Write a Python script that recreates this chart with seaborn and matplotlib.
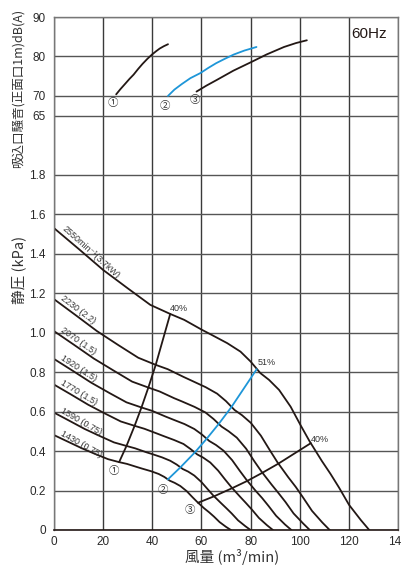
import matplotlib
matplotlib.use("Agg")
import matplotlib.pyplot as plt
import seaborn as sns

# fan curves (x: air flow m3/min, y: static pressure kPa)
speeds = ["2550min⁻¹(3.7kW)", "2230 (2.2)", "2070 (1.5)", "1920 (1.5)",
          "1770 (1.5)", "1590 (0.75)", "1430 (0.75)"]
q_2550 = [0, 10, 20, 30, 39.2, 47.3, 53, 60.3, 64, 70.5, 75.9, 80, 84, 87.5, 91.6, 96.3,
          100.4, 104, 109, 112.5, 116, 120.1, 124.9, 128.3]
p_2550 = [1.53, 1.425, 1.318, 1.225, 1.141, 1.095, 1.065, 1.014, 0.99, 0.947, 0.904, 0.854,
          0.795, 0.761, 0.71, 0.625, 0.53, 0.45, 0.35, 0.285, 0.215, 0.127, 0.05, 0]
q_2230 = [0, 8.7, 17.5, 26.2, 34.3, 41.4, 46.3, 52.7, 56.0, 61.7, 66.4, 70.0, 73.5, 76.5,
          80.1, 84.2, 87.8, 90.9, 95.3, 98.4, 101.4, 105.0, 109.2, 112.2]
p_2230 = [1.170, 1.090, 1.008, 0.937, 0.873, 0.837, 0.815, 0.776, 0.757, 0.724, 0.691, 0.653,
          0.608, 0.582, 0.543, 0.478, 0.405, 0.344, 0.268, 0.218, 0.164, 0.097, 0.038, 0]
q_2070 = [0, 8.1, 16.2, 24.4, 31.8, 38.4, 43.0, 48.9, 52.0, 57.2, 61.6, 64.9, 68.2, 71.0,
          74.4, 78.2, 81.5, 84.4, 88.5, 91.3, 94.2, 97.5, 101.4, 104.1]
p_2070 = [1.008, 0.939, 0.869, 0.807, 0.752, 0.722, 0.702, 0.668, 0.652, 0.624, 0.596, 0.563,
          0.524, 0.501, 0.468, 0.412, 0.349, 0.297, 0.231, 0.188, 0.142, 0.084, 0.033, 0]
q_1920 = [0, 7.5, 15.1, 22.6, 29.5, 35.6, 39.9, 45.4, 48.2, 53.1, 57.1, 60.2, 63.2, 65.9,
          69.0, 72.5, 75.6, 78.3, 82.1, 84.7, 87.3, 90.4, 94.0, 96.6]
p_1920 = [0.867, 0.808, 0.747, 0.694, 0.647, 0.621, 0.604, 0.575, 0.561, 0.537, 0.512, 0.484,
          0.451, 0.431, 0.402, 0.354, 0.300, 0.255, 0.198, 0.162, 0.122, 0.072, 0.028, 0]
q_1770 = [0, 6.9, 13.9, 20.8, 27.2, 32.8, 36.8, 41.9, 44.4, 48.9, 52.7, 55.5, 58.3, 60.7,
          63.6, 66.8, 69.7, 72.2, 75.7, 78.1, 80.5, 83.4, 86.7, 89.1]
p_1770 = [0.737, 0.687, 0.635, 0.590, 0.550, 0.528, 0.513, 0.489, 0.477, 0.456, 0.436, 0.411,
          0.383, 0.367, 0.342, 0.301, 0.255, 0.217, 0.169, 0.137, 0.104, 0.061, 0.024, 0]
q_1590 = [0, 6.2, 12.5, 18.7, 24.4, 29.5, 33.0, 37.6, 39.9, 44.0, 47.3, 49.9, 52.4, 54.6,
          57.1, 60.0, 62.6, 64.8, 68.0, 70.1, 72.3, 74.9, 77.9, 80.0]
p_1590 = [0.595, 0.554, 0.512, 0.476, 0.444, 0.426, 0.414, 0.394, 0.385, 0.368, 0.351, 0.332,
          0.309, 0.296, 0.276, 0.243, 0.206, 0.175, 0.136, 0.111, 0.084, 0.049, 0.019, 0]
q_1430 = [0, 5.6, 11.2, 16.8, 22.0, 26.5, 29.7, 33.8, 35.9, 39.5, 42.6, 44.9, 47.1, 49.1,
          51.4, 54.0, 56.3, 58.3, 61.1, 63.1, 65.1, 67.4, 70.0, 72.0]
p_1430 = [0.481, 0.448, 0.415, 0.385, 0.359, 0.344, 0.335, 0.319, 0.311, 0.298, 0.284, 0.269,
          0.250, 0.239, 0.223, 0.197, 0.167, 0.142, 0.110, 0.090, 0.068, 0.040, 0.016, 0]

# efficiency lines (1) 40%, (2) 51%, (3) 40%
q_eff1 = [26.5, 29.5, 32.8, 35.6, 38.4, 41.4, 47.3]
p_eff1 = [0.344, 0.426, 0.528, 0.621, 0.722, 0.837, 1.095]
q_eff2 = [46.3, 51.4, 57.3, 62.1, 67.0, 72.2, 82.5]
p_eff2 = [0.256, 0.317, 0.393, 0.462, 0.537, 0.623, 0.815]
q_eff3 = [58.6, 65.2, 72.5, 78.7, 84.8, 91.4, 104.5]
p_eff3 = [0.138, 0.171, 0.212, 0.249, 0.290, 0.337, 0.44]

# noise curves dB(A)
q_noise1 = [25.3, 27.0, 29.0, 30.7, 32.4, 34.2, 36.0, 38.0, 39.9, 41.5, 43.0, 44.7, 46.4]
db_noise1 = [70.4, 71.7, 73.1, 74.3, 75.4, 76.8, 78.1, 79.4, 80.5, 81.3, 82.0, 82.6, 83.1]
q_noise2 = [46.4, 49.0, 52.0, 55.5, 59.6, 62.8, 66.0, 69.5, 73.2, 77.5, 82.4]
db_noise2 = [70.0, 71.6, 73.0, 74.5, 75.8, 77.1, 78.3, 79.4, 80.5, 81.5, 82.4]
q_noise3 = [58.0, 62.0, 66.4, 73.0, 80.0, 86.5, 93.6, 98.5, 102.9]
db_noise3 = [71.1, 72.6, 74.1, 76.4, 78.5, 80.5, 82.4, 83.4, 84.1]

db_ticks = [65, 70, 80, 90]
kpa_ticks = [0, 0.2, 0.4, 0.6, 0.8, 1.0, 1.2, 1.4, 1.6, 1.8]


def db_to_y(db):
    # upper dB scale shares the axis: 70 dB sits at 2.2, 10 dB = 0.2
    return [2.2 + (v - 70) * 0.02 for v in db]


sns.set_style("white")
plt.rcParams["font.family"] = ["Liberation Sans Narrow", "Liberation Sans", "DejaVu Sans"]

BLACK = "#231815"
BLUE = "#1e96d8"

fig = plt.figure(figsize=(4.01, 5.66), dpi=100)
ax = fig.add_axes([54 / 401, 36 / 566, 344 / 401, 513 / 566])

curves = [(q_2550, p_2550), (q_2230, p_2230), (q_2070, p_2070), (q_1920, p_1920),
          (q_1770, p_1770), (q_1590, p_1590), (q_1430, p_1430)]
for q, p in curves:
    sns.lineplot(x=q, y=p, ax=ax, color=BLACK, lw=1.3, sort=False)

sns.lineplot(x=q_eff1, y=p_eff1, ax=ax, color=BLACK, lw=1.3, sort=False)
sns.lineplot(x=q_eff2, y=p_eff2, ax=ax, color=BLUE, lw=1.3, sort=False)
sns.lineplot(x=q_eff3, y=p_eff3, ax=ax, color=BLACK, lw=1.3, sort=False)

sns.lineplot(x=q_noise1, y=db_to_y(db_noise1), ax=ax, color=BLACK, lw=1.3, sort=False)
sns.lineplot(x=q_noise2, y=db_to_y(db_noise2), ax=ax, color=BLUE, lw=1.3, sort=False)
sns.lineplot(x=q_noise3, y=db_to_y(db_noise3), ax=ax, color=BLACK, lw=1.3, sort=False)

ax.set_xlim(0, 140)
ax.set_ylim(0, 2.6)
ax.set_xticks(range(0, 141, 20))
yt = kpa_ticks + db_to_y(db_ticks)
ax.set_yticks(yt)
ax.set_yticklabels([f"{v:g}" if v != 1.0 else "1.0" for v in kpa_ticks] + [str(d) for d in db_ticks])
ax.set_xlabel("")
ax.set_ylabel("")
ax.tick_params(axis="y", length=3, width=0.8, color="#777777", pad=3, labelsize=8.5, labelcolor="#2a2a2a")
ax.tick_params(axis="x", length=0, pad=4, labelsize=8.5, labelcolor="#2a2a2a")
ax.xaxis.grid(True, color="#3a3a3a", lw=1.0)
ax.yaxis.grid(True, color="#555555", lw=1.0)
ax.set_axisbelow(True)
for side in ["left", "top", "right"]:
    ax.spines[side].set_color("#777777")
    ax.spines[side].set_linewidth(1.0)
ax.spines["bottom"].set_color(BLACK)
ax.spines["bottom"].set_linewidth(1.2)

# speed labels along the left ends of the curves
label_pos = [(2.5, 1.515, -42), (2.0, 1.16, -37), (2.0, 0.998, -35), (2.0, 0.858, -33),
             (2.0, 0.728, -31), (2.0, 0.587, -30), (2.0, 0.473, -29)]
for text, (lx, ly, rot) in zip(speeds, label_pos):
    ax.text(lx, ly, text, rotation=rot, rotation_mode="anchor", ha="left", va="bottom",
            fontsize=6.5, color="#333333",
            family=["Liberation Sans Narrow", "Liberation Sans", "DejaVu Sans"])

ax.text(51, 1.124, "40%", fontsize=6.5, ha="center", va="center", color="#333333")
ax.text(86.4, 0.85, "51%", fontsize=6.5, ha="center", va="center", color="#333333")
ax.text(108.2, 0.46, "40%", fontsize=6.5, ha="center", va="center", color="#333333")

circ = ["Noto Sans CJK JP", "DejaVu Sans"]
for s, x, y in [("①", 23.8, 2.164), ("②", 44.9, 2.150), ("③", 57.4, 2.181),
                ("①", 24.2, 0.301), ("②", 44.4, 0.203), ("③", 55.1, 0.101)]:
    ax.text(x, y, s, fontsize=7.5, ha="center", va="center", color="#333333", family=circ)

ax.text(121, 2.515, "60Hz", fontsize=11, ha="left", va="center", color=BLACK)

jp = ["Noto Sans CJK JP", "DejaVu Sans"]
fig.text(0.045, 0.843, "吸込口騒音(正面口1m)dB(A)", rotation=90, ha="center", va="center",
         fontsize=9, color="#333333", family=jp)
fig.text(0.047, 0.523, "静圧 (kPa)", rotation=90, ha="center", va="center",
         fontsize=10.5, color="#333333", family=jp)
fig.text(0.578, 0.016, "風量 (m³/min)", ha="center", va="center",
         fontsize=10.5, color="#333333", family=jp)

fig.savefig("out.png", dpi=100)
